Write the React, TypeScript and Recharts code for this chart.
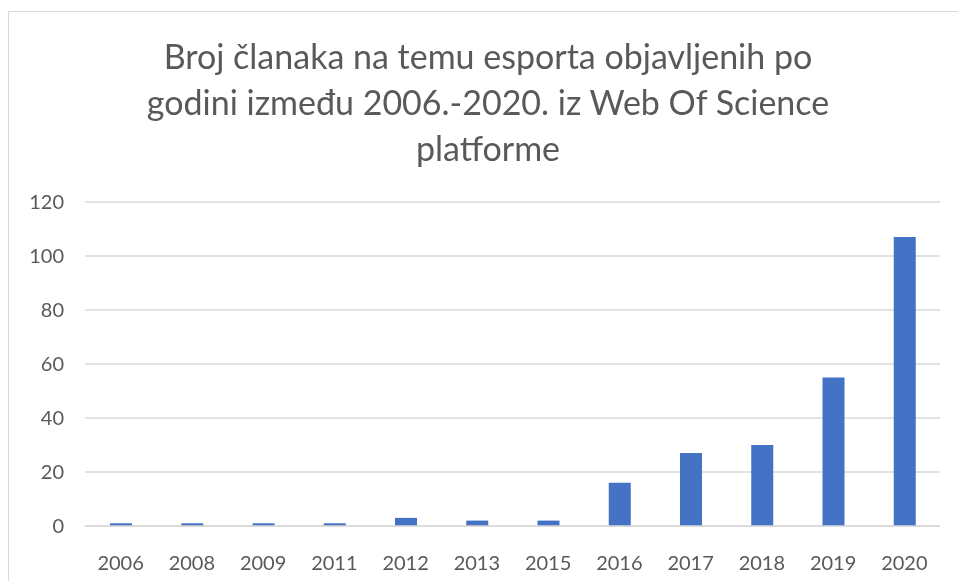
import React from "react";
import { BarChart, Bar, XAxis, YAxis, CartesianGrid } from "recharts";

const years = ["2006", "2008", "2009", "2011", "2012", "2013", "2015", "2016", "2017", "2018", "2019", "2020"];
const articles = [1, 1, 1, 1, 3, 2, 2, 16, 27, 30, 55, 107];
const yTicks = [0, 20, 40, 60, 80, 100, 120];
const titleLines = [
  "Broj članaka na temu esporta objavljenih po",
  "godini između 2006.-2020. iz Web Of Science",
  "platforme",
];

const data = years.map((year, i) => ({ year, count: articles[i] }));

const FONT = "Lato, 'Open Sans', sans-serif";
const GREY = "#595959";

const App: React.FC = () => {
  return (
    <div style={{ position: "relative", width: 942, height: 565, fontFamily: FONT }}>
      {/* chart frame, runs off the right and bottom of the page */}
      <div
        style={{
          position: "fixed",
          left: 8,
          top: 11,
          right: -20,
          bottom: -20,
          borderLeft: "1px solid #d9d9d9",
          borderTop: "1px solid #d9d9d9",
          pointerEvents: "none",
        }}
      />
      <div
        style={{
          position: "absolute",
          left: 0,
          top: 25,
          width: 960,
          textAlign: "center",
          fontSize: 34,
          lineHeight: "46px",
          color: GREY,
        }}
      >
        {titleLines.map((line) => (
          <div key={line}>{line}</div>
        ))}
      </div>
      <BarChart
        width={942}
        height={565}
        data={data}
        margin={{ top: 194, right: 10, left: 0, bottom: 17 }}
      >
        <CartesianGrid vertical={false} stroke="#d9d9d9" strokeWidth={1.5} />
        <XAxis
          dataKey="year"
          axisLine={{ stroke: "#d9d9d9", strokeWidth: 1.5 }}
          tickLine={false}
          tickMargin={24}
          height={30}
          tick={{ fill: GREY, fontSize: 20, fontFamily: FONT }}
        />
        <YAxis
          domain={[0, 120]}
          ticks={yTicks}
          width={77}
          axisLine={false}
          tickLine={false}
          tickMargin={15}
          tick={{ fill: GREY, fontSize: 20, fontFamily: FONT }}
        />
        <Bar dataKey="count" fill="#4472c4" barSize={22} isAnimationActive={false} />
      </BarChart>
    </div>
  );
};

export default App;
